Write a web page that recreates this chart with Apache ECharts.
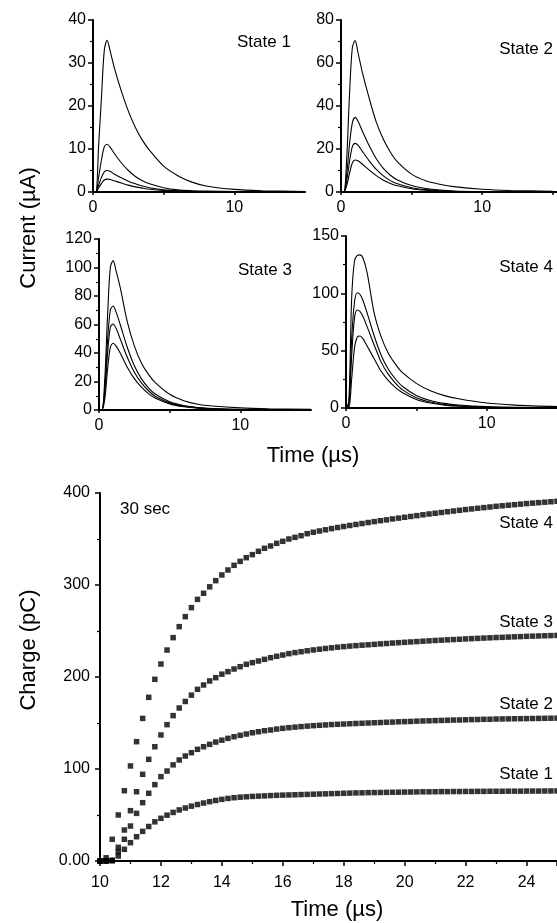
<!DOCTYPE html>
<html>
<head>
<meta charset="utf-8">
<script src="https://cdn.jsdelivr.net/npm/echarts@6/dist/echarts.min.js"></script>
<style>
html,body{margin:0;padding:0;background:#fff;}
#chart{width:557px;height:923px;}
</style>
</head>
<body>
<div id="chart"></div>
<script>
// ---- Current traces (top panels), time in µs ----
var traceTimes = [0, 0.2, 0.4, 0.6, 0.8, 1.0, 1.2, 1.5, 2.0, 2.5, 3.0, 3.5, 4.0, 5.0, 6.0, 7.0, 8.0, 10.0, 12.0, 15.0];

var state1Traces = [
  [0, 0, 11, 22, 33, 35.3, 33, 29, 23.5, 18.8, 15, 12, 9.7, 6.0, 3.8, 2.3, 1.4, 0.6, 0.3, 0.1],
  [0, 0, 3.5, 7.5, 10.5, 11.1, 10.5, 9, 6.8, 5.0, 3.6, 2.6, 1.9, 1.0, 0.5, 0.3, 0.2, 0.1, 0.05, 0],
  [0, 0, 1.6, 3.4, 4.7, 5.0, 4.8, 4.2, 3.3, 2.5, 1.9, 1.4, 1.0, 0.5, 0.3, 0.15, 0.1, 0.05, 0, 0],
  [0, 0, 1.0, 2.0, 2.8, 3.0, 2.9, 2.6, 2.1, 1.6, 1.2, 0.9, 0.65, 0.35, 0.2, 0.1, 0.05, 0, 0, 0]
];
var state2Traces = [
  [0, 0, 15, 45, 67, 70.4, 65, 56, 43.5, 32.5, 24.5, 18.5, 14, 8.3, 5.2, 3.6, 2.5, 1.3, 0.7, 0.3],
  [0, 0, 8, 22, 32, 34.7, 33, 28.5, 21.5, 15.5, 11, 7.8, 5.6, 3, 1.6, 0.9, 0.5, 0.2, 0.1, 0],
  [0, 0, 5, 14, 21, 22.6, 21.8, 19, 14.5, 10.5, 7.5, 5.3, 3.8, 2, 1.1, 0.6, 0.35, 0.15, 0.05, 0],
  [0, 0, 3, 8.5, 13.5, 14.9, 14.5, 13, 10.2, 7.6, 5.5, 4, 2.9, 1.5, 0.8, 0.45, 0.25, 0.1, 0.05, 0]
];
var state3Traces = [
  [0, 0, 20, 65, 100, 104.8, 98, 86, 62, 45, 33, 25, 19, 11, 6.5, 4, 2.8, 1.5, 0.9, 0.5],
  [0, 0, 14, 48, 70, 73, 69, 60, 44, 31, 22, 15.5, 11, 5.8, 3.2, 1.8, 1.1, 0.5, 0.3, 0.1],
  [0, 0, 11, 39, 58, 60.4, 57.5, 50, 37, 26.5, 19, 13.5, 9.5, 5, 2.7, 1.5, 0.9, 0.4, 0.2, 0.1],
  [0, 0, 7, 28, 44, 46.8, 45, 40, 30, 22, 16, 11.5, 8.2, 4.3, 2.3, 1.3, 0.8, 0.3, 0.1, 0]
];
var state4Traces = [
  [0, 5, 95, 128, 133, 133.5, 131, 118, 83, 62, 48, 38.5, 31, 21.5, 15, 10.8, 8, 4.3, 2.5, 1.2],
  [0, 3, 60, 92, 100.5, 99, 94, 83, 63, 46, 34, 25.5, 19, 11, 6.5, 4, 2.6, 1.2, 0.6, 0.3],
  [0, 2, 45, 78, 85.4, 84, 80, 71, 55, 40, 29.5, 22, 16, 9, 5.2, 3, 1.9, 0.8, 0.4, 0.2],
  [0, 0, 25, 52, 62, 62.8, 60.5, 54, 43, 32, 24, 18, 13.5, 7.5, 4.3, 2.5, 1.5, 0.7, 0.3, 0.1]
];

// ---- Charge (bottom panel), time in µs ----
var chargeTimes = [
  10.0, 10.2, 10.4, 10.6, 10.8,
  11.0, 11.2, 11.4, 11.6, 11.8,
  12.0, 12.2, 12.4, 12.6, 12.8,
  13.0, 13.2, 13.4, 13.6, 13.8,
  14.0, 14.2, 14.4, 14.6, 14.8,
  15.0, 15.2, 15.4, 15.6, 15.8,
  16.0, 16.2, 16.4, 16.6, 16.8,
  17.0, 17.2, 17.4, 17.6, 17.8,
  18.0, 18.2, 18.4, 18.6, 18.8,
  19.0, 19.2, 19.4, 19.6, 19.8,
  20.0, 20.2, 20.4, 20.6, 20.8,
  21.0, 21.2, 21.4, 21.6, 21.8,
  22.0, 22.2, 22.4, 22.6, 22.8,
  23.0, 23.2, 23.4, 23.6, 23.8,
  24.0, 24.2, 24.4, 24.6, 24.8,
  25.0
];
var chargeState4 = [
  0, 3.5, 23.6, 50, 76.4,
  103.3, 129.7, 155, 177.9, 197.5,
  214.1, 229.3, 242.8, 254.7, 265.6,
  275.4, 284.4, 291, 298, 304.7,
  310.9, 316.3, 321.4, 325.7, 329.7,
  333, 336.6, 339.9, 342.4, 345.3,
  347.5, 350, 351.8, 353.6, 355.8,
  357.3, 358.7, 360, 361.3, 362.5,
  363.6, 364.7, 365.8, 366.8, 367.9,
  368.9, 369.9, 370.8, 371.8, 372.7,
  373.6, 374.5, 375.4, 376.3, 377.2,
  378, 378.8, 379.6, 380.4, 381.2,
  382, 382.7, 383.4, 384.1, 384.8,
  385.5, 386.1, 386.7, 387.3, 387.9,
  388.5, 389, 389.5, 390, 390.5,
  391
];
var chargeState3 = [
  0, 0, 0.8, 14.9, 33.7,
  54.7, 75.3, 94.2, 110.5, 124.2,
  137, 148.2, 158, 166.3, 173.4,
  180.3, 186.6, 191.3, 195.7, 199.3,
  203.1, 205.8, 208.7, 211.2, 213.8,
  215.6, 217.4, 219.2, 221, 222.5,
  223.9, 225.4, 226.5, 227.5, 228.5,
  229.4, 230.2, 231, 231.7, 232.4,
  233, 233.6, 234.1, 234.6, 235,
  235.5, 236, 236.4, 236.9, 237.3,
  237.7, 238.1, 238.5, 238.9, 239.3,
  239.7, 240, 240.4, 240.7, 241,
  241.4, 241.7, 242, 242.3, 242.6,
  242.9, 243.1, 243.4, 243.7, 243.9,
  244.2, 244.4, 244.6, 244.8, 245,
  245.2
];
var chargeState2 = [
  0, 0, 0.5, 10.1, 23.6,
  38, 51.8, 63.4, 73.6, 83,
  91.7, 97.8, 104.5, 109.8, 114.1,
  117.7, 121.4, 124.2, 126.8, 129.3,
  131.3, 133.3, 135.1, 136.6, 138,
  139.4, 140.5, 141.6, 142.4, 143.4,
  144.2, 144.9, 145.5, 146.1, 146.6,
  147.1, 147.5, 147.9, 148.3, 148.6,
  148.9, 149.2, 149.5, 149.7, 150,
  150.3, 150.5, 150.8, 151, 151.3,
  151.5, 151.7, 152, 152.2, 152.4,
  152.6, 152.8, 153, 153.2, 153.3,
  153.5, 153.7, 153.8, 154, 154.1,
  154.3, 154.4, 154.5, 154.6, 154.7,
  154.8, 154.9, 155, 155.1, 155.2,
  155.3
];
var chargeState1 = [
  0, 0, 0.3, 5.4, 12.7,
  19.9, 26.4, 32.2, 37.5, 42.6,
  46.4, 49.8, 52.8, 55.5, 57.6,
  59.6, 61.4, 63, 64.5, 65.8,
  67, 68, 68.8, 69.4, 69.8,
  70.2, 70.5, 70.8, 71.1, 71.4,
  71.6, 71.8, 72, 72.2, 72.4,
  72.6, 72.8, 73, 73.2, 73.4,
  73.6, 73.8, 74, 74.1, 74.3,
  74.4, 74.5, 74.6, 74.7, 74.8,
  74.9, 75, 75.1, 75.2, 75.2,
  75.3, 75.4, 75.4, 75.5, 75.5,
  75.6, 75.6, 75.7, 75.7, 75.8,
  75.8, 75.8, 75.9, 75.9, 75.9,
  76, 76, 76, 76.1, 76.1,
  76.2
];

var panelYMax = [40, 80, 120, 150];
var panelYStep = [10, 20, 20, 50];
var panelXMax = [15, 15.3, 15, 15];
var panelXLabels = [0, 10];
var chargeYTicks = [0, 100, 200, 300, 400];
var stateNames = ['State 1', 'State 2', 'State 3', 'State 4'];

var FONT = '"Liberation Sans", Arial, Helvetica, sans-serif';

var chart = echarts.init(document.getElementById('chart'), null, {renderer: 'canvas'});

var grids = [
  {left: 93, top: 20, width: 212, height: 172},
  {left: 341, top: 20, width: 216, height: 172},
  {left: 99, top: 239, width: 212, height: 171},
  {left: 346, top: 236, width: 211, height: 172},
  {left: 100, top: 493, width: 460, height: 368}
];

function axisCommon() {
  return {
    axisLine: {show: true, onZero: false, lineStyle: {color: '#000', width: 2}},
    axisTick: {show: true, inside: false, length: 5, lineStyle: {color: '#000', width: 1.5}},
    minorTick: {show: true, splitNumber: 2, length: 3, lineStyle: {color: '#000', width: 1.2}},
    splitLine: {show: false},
    minorSplitLine: {show: false}
  };
}

var xAxes = [], yAxes = [], series = [];
var allTraces = [state1Traces, state2Traces, state3Traces, state4Traces];
for (var p = 0; p < 4; p++) {
  var xa = axisCommon();
  xa.type = 'value'; xa.gridIndex = p; xa.min = 0; xa.max = panelXMax[p]; xa.interval = 5;
  xa.minorTick = {show: false};
  xa.axisTick.length = 3;
  xa.axisLabel = {
    color: '#000', fontSize: 16, fontFamily: FONT, margin: 8,
    showMaxLabel: false,
    formatter: function (v) { return panelXLabels.indexOf(v) >= 0 ? String(v) : ''; }
  };
  xAxes.push(xa);
  var ya = axisCommon();
  ya.type = 'value'; ya.gridIndex = p; ya.min = 0; ya.max = panelYMax[p]; ya.interval = panelYStep[p];
  ya.axisLabel = {color: '#000', fontSize: 16, fontFamily: FONT, margin: 7};
  yAxes.push(ya);
  allTraces[p].forEach(function (tr) {
    series.push({
      type: 'line', xAxisIndex: p, yAxisIndex: p,
      data: traceTimes.map(function (t, i) { return [t, tr[i]]; }),
      showSymbol: false, smooth: 0.3, silent: true,
      lineStyle: {color: '#000', width: 1.1}, itemStyle: {color: '#000'},
      z: 3
    });
  });
}

var xb = axisCommon();
xb.type = 'value'; xb.gridIndex = 4; xb.min = 10; xb.max = 25; xb.interval = 2;
xb.axisLabel = {color: '#000', fontSize: 16, fontFamily: FONT, margin: 14, showMaxLabel: false};
xAxes.push(xb);
var yb = axisCommon();
yb.type = 'value'; yb.gridIndex = 4; yb.min = chargeYTicks[0]; yb.max = chargeYTicks[chargeYTicks.length - 1]; yb.interval = 100;
yb.axisLabel = {color: '#000', fontSize: 16, fontFamily: FONT, margin: 10,
  formatter: function (v) { return v === 0 ? '0.00' : String(v); }};
yAxes.push(yb);

[chargeState1, chargeState2, chargeState3, chargeState4].forEach(function (arr) {
  series.push({
    type: 'scatter', xAxisIndex: 4, yAxisIndex: 4,
    data: chargeTimes.map(function (t, i) { return [t, arr[i]]; }),
    symbol: 'rect', symbolSize: 5.5, silent: true,
    itemStyle: {color: '#000'}
  });
});

function txt(x, y, s, size, align, rot) {
  return {
    type: 'text', x: x, y: y, rotation: rot || 0, silent: true,
    style: {text: s, font: size + 'px ' + FONT, fill: '#000',
      align: align || 'left', textAlign: align || 'left',
      verticalAlign: 'middle', textVerticalAlign: 'middle'}
  };
}

var graphics = [
  txt(237, 42, stateNames[0], 17, 'left'),
  txt(553, 49, stateNames[1], 17, 'right'),
  txt(238, 270, stateNames[2], 17, 'left'),
  txt(553, 267, stateNames[3], 17, 'right'),
  txt(29, 228, 'Current (\u00b5A)', 22, 'center', Math.PI / 2),
  txt(313, 456, 'Time (\u00b5s)', 22, 'center'),
  txt(29, 650, 'Charge (pC)', 22, 'center', Math.PI / 2),
  txt(337, 910, 'Time (\u00b5s)', 22, 'center'),
  txt(120, 509, '30 sec', 17, 'left'),
  txt(553, 523, stateNames[3], 17, 'right'),
  txt(553, 622, stateNames[2], 17, 'right'),
  txt(553, 704, stateNames[1], 17, 'right'),
  txt(553, 774, stateNames[0], 17, 'right')
];

chart.setOption({
  animation: false,
  backgroundColor: '#fff',
  grid: grids,
  xAxis: xAxes,
  yAxis: yAxes,
  series: series,
  graphic: {elements: graphics}
});
</script>
</body>
</html>
